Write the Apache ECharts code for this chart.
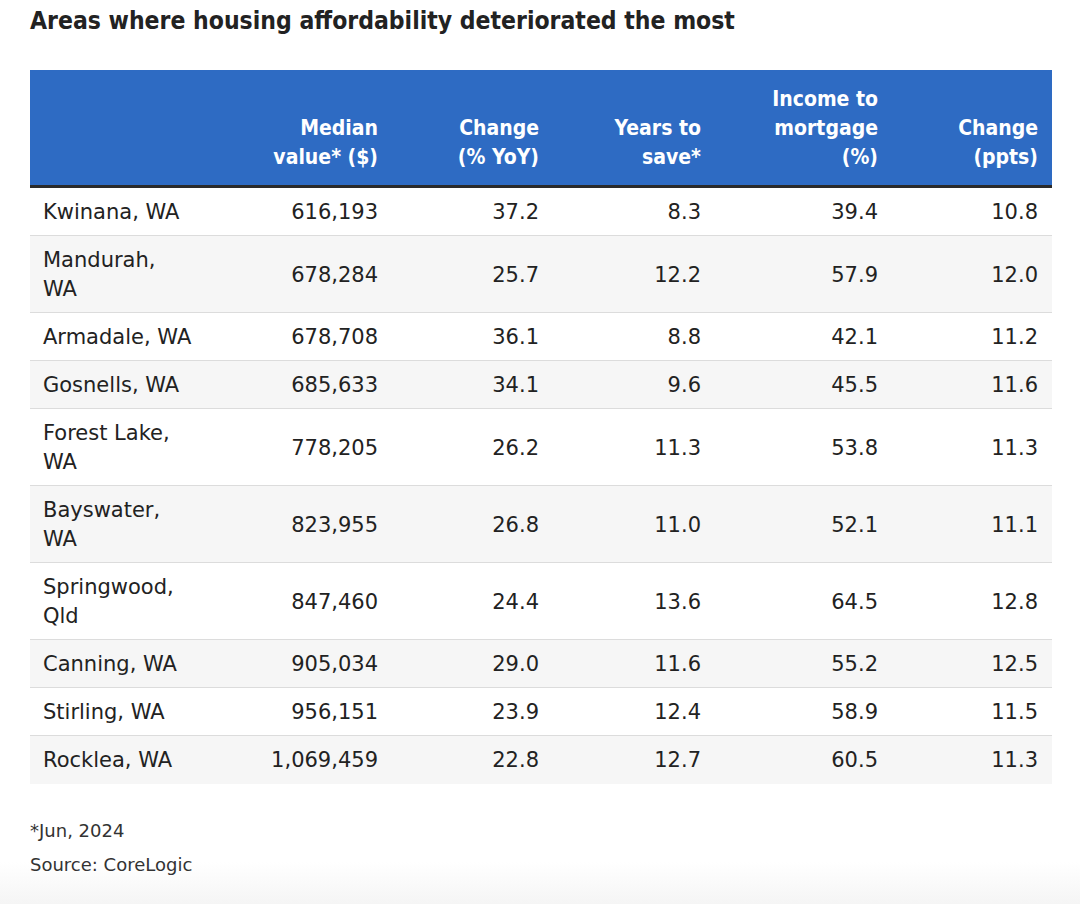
<!DOCTYPE html>
<html><head><meta charset="utf-8">
<script src="https://cdn.jsdelivr.net/npm/echarts@6/dist/echarts.min.js"></script>
<style>html,body{margin:0;padding:0;background:#fff}#c{width:1080px;height:904px}</style>
</head><body><div id="c"></div>
<script>
// ---------- data ----------
const chartTitle = 'Areas where housing affordability deteriorated the most';
const columnHeaders = ['', 'Median\nvalue* ($)', 'Change\n(% YoY)', 'Years to\nsave*', 'Income to\nmortgage\n(%)', 'Change\n(ppts)'];
const areas = ['Kwinana, WA', 'Mandurah, WA', 'Armadale, WA', 'Gosnells, WA', 'Forest Lake, WA', 'Bayswater, WA', 'Springwood, Qld', 'Canning, WA', 'Stirling, WA', 'Rocklea, WA'];
const medianValue = [616193, 678284, 678708, 685633, 778205, 823955, 847460, 905034, 956151, 1069459];
const changeYoY = [37.2, 25.7, 36.1, 34.1, 26.2, 26.8, 24.4, 29.0, 23.9, 22.8];
const yearsToSave = [8.3, 12.2, 8.8, 9.6, 11.3, 11.0, 13.6, 11.6, 12.4, 12.7];
const incomeToMortgage = [39.4, 57.9, 42.1, 45.5, 53.8, 52.1, 64.5, 55.2, 58.9, 60.5];
const changePpts = [10.8, 12.0, 11.2, 11.6, 11.3, 11.1, 12.8, 12.5, 11.5, 11.3];
const footNotes = ['*Jun, 2024', 'Source: CoreLogic'];

// ---------- layout & style ----------
const FONT = '"DejaVu Sans", sans-serif';
const HFONT = '"DejaVu Sans Condensed", "DejaVu Sans", sans-serif';
const L = {
  left: 30, top: 70, width: 1022,
  headerH: 115, ruleH: 3, rowH: 48, lineH: 29,
  nameX: 13, colRight: [0, 348, 509, 671, 848, 1008],
  wrapW: 150, headerLastLine: 87
};
const C = { blue: '#2e6bc3', rule: '#2a2a2a', text: '#222222', alt: '#f6f6f6', sep: '#dcdcdc', foot: '#333333' };

// ---------- derived ----------
const mctx = document.createElement('canvas').getContext('2d');
mctx.font = '21px "DejaVu Sans"';
function wrapName(s) {
  if (mctx.measureText(s).width <= L.wrapW) return [s];
  const k = s.lastIndexOf(' ');
  return [s.slice(0, k), s.slice(k + 1)];
}
const nameLines = areas.map(wrapName);
const rowTop = [], rowH = [];
let acc = L.headerH + L.ruleH;
nameLines.forEach(ls => { rowTop.push(acc); const h = L.rowH + (ls.length - 1) * L.lineH; rowH.push(h); acc += h; });
const tableH = acc;

const fmtInt = v => v.toLocaleString('en-US');
const fmt1 = v => v.toFixed(1);
const cellText = areas.map((a, i) => [
  nameLines[i],
  [fmtInt(medianValue[i])],
  [fmt1(changeYoY[i])],
  [fmt1(yearsToSave[i])],
  [fmt1(incomeToMortgage[i])],
  [fmt1(changePpts[i])]
]);

const cellData = [];
areas.forEach((a, i) => columnHeaders.forEach((h, j) => cellData.push([j, i])));

const chart = echarts.init(document.getElementById('c'), null, { renderer: 'svg' });
chart.setOption({
  animation: false,
  backgroundColor: '#ffffff',
  grid: { left: L.left, top: L.top, width: L.width, height: tableH, containLabel: false },
  xAxis: { type: 'value', min: 0, max: L.width, show: false },
  yAxis: { type: 'value', min: 0, max: tableH, inverse: true, show: false },
  graphic: [
    { type: 'rect', left: 0, top: 862, z: -10, shape: { width: 1080, height: 42 },
      style: { fill: new echarts.graphic.LinearGradient(0, 0, 0, 1, [{ offset: 0, color: '#ffffff' }, { offset: 1, color: '#f5f5f5' }]) } },
    { type: 'text', x: L.left, y: 20, style: { text: chartTitle, font: 'bold 24.5px ' + HFONT, fill: C.text, verticalAlign: 'middle' } },
    ...footNotes.map((t, k) => ({ type: 'text', x: L.left, y: L.top + tableH + 46 + k * 34,
      style: { text: t, font: '18px ' + FONT, fill: C.foot, verticalAlign: 'middle' } }))
  ],
  series: [
    { // header background + rule
      type: 'custom', coordinateSystem: 'cartesian2d', silent: true, data: [[0, 0]],
      renderItem: (params, api) => {
        const p0 = api.coord([0, 0]), p1 = api.coord([L.width, L.headerH]), p2 = api.coord([L.width, L.headerH + L.ruleH]);
        return { type: 'group', children: [
          { type: 'rect', shape: { x: p0[0], y: p0[1], width: p1[0] - p0[0], height: p1[1] - p0[1] }, style: { fill: C.blue } },
          { type: 'rect', shape: { x: p0[0], y: p1[1], width: p1[0] - p0[0], height: p2[1] - p1[1] }, style: { fill: C.rule } }
        ] };
      }
    },
    { // header labels
      type: 'custom', coordinateSystem: 'cartesian2d', silent: true, data: columnHeaders.map((h, j) => [j, 0]),
      renderItem: (params, api) => {
        const j = api.value(0);
        const lines = columnHeaders[j] ? columnHeaders[j].split('\n') : [];
        const n = lines.length;
        return { type: 'group', children: lines.map((t, k) => {
          const p = api.coord([L.colRight[j], L.headerLastLine - (n - 1 - k) * L.lineH]);
          return { type: 'text', x: p[0], y: p[1], style: { text: t, font: 'bold 21px ' + HFONT, fill: '#ffffff', align: 'right', verticalAlign: 'middle' } };
        }) };
      }
    },
    { // row backgrounds and separators
      type: 'custom', coordinateSystem: 'cartesian2d', silent: true, data: areas.map((a, i) => [0, i]),
      renderItem: (params, api) => {
        const i = api.value(1);
        const a = api.coord([0, rowTop[i]]), b = api.coord([L.width, rowTop[i] + rowH[i]]);
        const ch = [{ type: 'rect', shape: { x: a[0], y: a[1], width: b[0] - a[0], height: b[1] - a[1] }, style: { fill: i % 2 ? C.alt : '#ffffff' } }];
        if (i < areas.length - 1) ch.push({ type: 'line', shape: { x1: a[0], y1: b[1], x2: b[0], y2: b[1] }, style: { stroke: C.sep, lineWidth: 2 } });
        return { type: 'group', children: ch };
      }
    },
    { // cells
      type: 'custom', coordinateSystem: 'cartesian2d', silent: true, data: cellData, z: 5,
      renderItem: (params, api) => {
        const j = api.value(0), i = api.value(1);
        const lines = cellText[i][j], n = lines.length;
        const mid = rowTop[i] + rowH[i] / 2;
        return { type: 'group', children: lines.map((t, k) => {
          const p = api.coord([j === 0 ? L.nameX : L.colRight[j], mid + (k - (n - 1) / 2) * L.lineH]);
          return { type: 'text', x: p[0], y: p[1], style: { text: t, font: '21px ' + FONT, fill: C.text, align: j === 0 ? 'left' : 'right', verticalAlign: 'middle' } };
        }) };
      }
    }
  ]
});
</script></body></html>
